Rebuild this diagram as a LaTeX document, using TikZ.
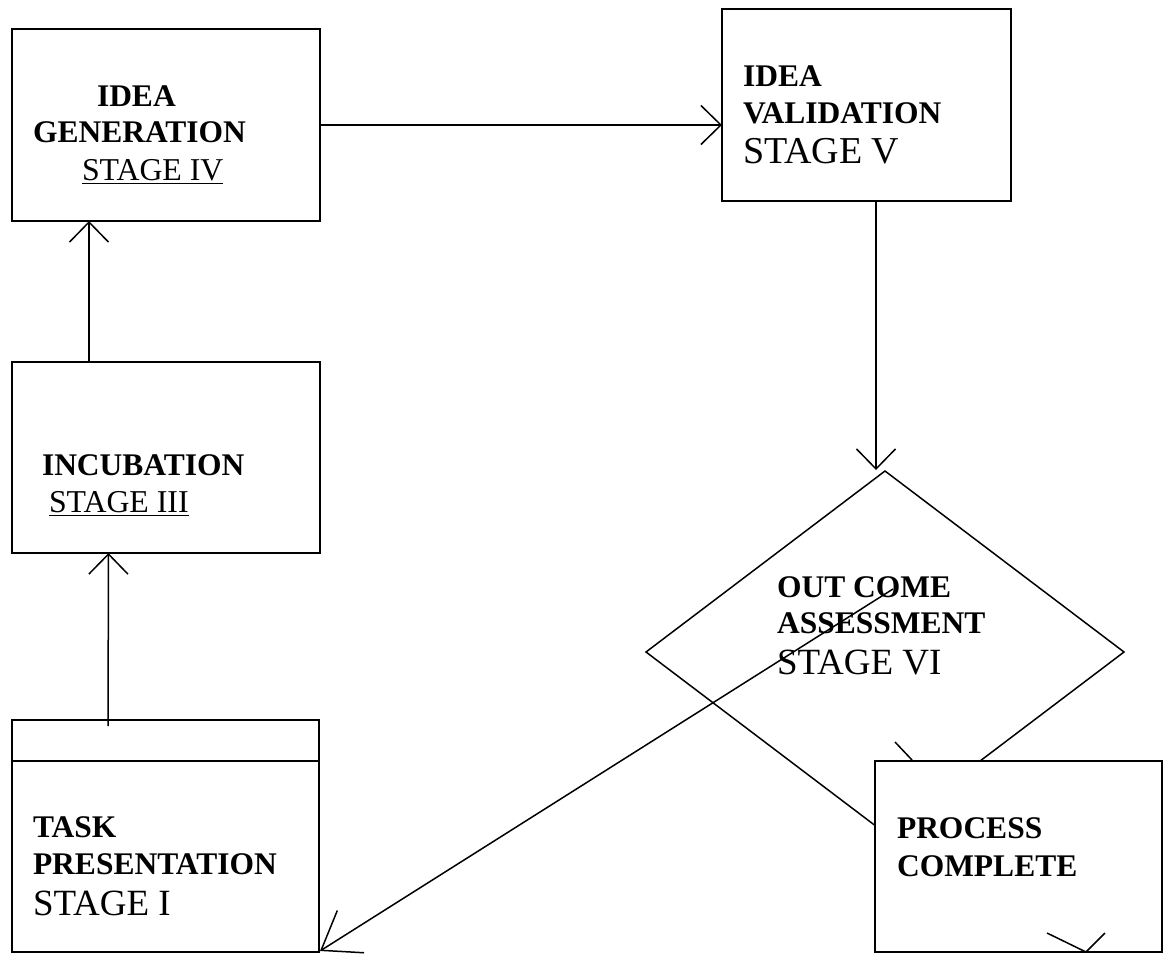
\documentclass[tikz,border=0pt]{standalone}
\usepackage{fontspec}
\setmainfont{Liberation Serif}
\usetikzlibrary{arrows.meta}
\tikzset{
  box/.style={draw, line width=1.8pt, inner sep=0pt, outer sep=0pt, fill=white},
  conn/.style={line width=1.5pt},
  arr/.style={conn, -{Straight Barb[length=20pt,width=39pt,line width=1.5pt]}},
  longarr/.style={conn, -{Straight Barb[length=35pt,width=50pt,line width=1.5pt]}},
  hd/.style={anchor=base west, inner sep=0pt, outer sep=0pt, font=\fontsize{31.5}{36}\selectfont\bfseries},
  st/.style={anchor=base west, inner sep=0pt, outer sep=0pt, font=\fontsize{31.8}{36}\selectfont},
  stbig/.style={anchor=base west, inner sep=0pt, outer sep=0pt, font=\fontsize{37}{40}\selectfont},
  uline/.style={line width=1.6pt},
}
\begin{document}
\begin{tikzpicture}[x=1pt,y=-1pt]
\useasboundingbox (0,0) rectangle (1165,954);

% boxes
\node[box, minimum width=308pt, minimum height=192pt] (gen) at (166,125) {};
\node[box, minimum width=289pt, minimum height=192pt] (val) at (866.5,105) {};
\node[box, minimum width=308pt, minimum height=191pt] (inc) at (166,457.5) {};
\node[box, minimum width=307pt, minimum height=232pt] (task) at (165.5,836) {};
\draw[line width=1.8pt] ([yshift=-41pt]task.north west) -- ([yshift=-41pt]task.north east);

% diamond
\coordinate (dT) at (885,471);
\coordinate (dL) at (646,652);
\coordinate (dR) at (1124,652);
\coordinate (dB) at (885,833);
\draw[conn] (dT) -- (dL) -- (dB) -- (dR) -- cycle;

% process box on top of diamond bottom
\node[box, minimum width=287pt, minimum height=191pt] (proc) at (1018.5,856.5) {};

% texts
\node[hd] (t1) at (97,106) {IDEA};
\node[hd] (t2) at (33,142) {GENERATION};
\node[st] (s4) at (82,180) {STAGE IV};
\draw[uline] ([yshift=-3.5pt]s4.base west) -- ([yshift=-3.5pt]s4.base east);

\node[hd] (t3) at (743,86) {IDEA};
\node[hd] (t4) at (743,123) {VALIDATION};
\node[stbig, font=\fontsize{38}{40}\selectfont] (s5) at (743,163) {STAGE V};

\node[hd] (t5) at (42,475) {INCUBATION};
\node[st] (s3) at (49,512) {STAGE III};
\draw[uline] ([yshift=-3.5pt]s3.base west) -- ([yshift=-3.5pt]s3.base east);

\node[hd] (t6) at (33,837) {TASK};
\node[hd] (t7) at (33,874) {PRESENTATION};
\node[stbig] (s1) at (33,915) {STAGE I};

\node[hd] (t8) at (777,597) {OUT COME};
\node[hd] (t9) at (777,633) {ASSESSMENT};
\node[stbig] (s6) at (777,674) {STAGE VI};

\node[hd] (t10) at (897,838) {PROCESS};
\node[hd] (t11) at (897,876) {COMPLETE};

% connectors
\draw[arr] (gen.east) -- (gen.east -| val.west);
\draw[arr] ([xshift=-77pt]inc.north) -- ([xshift=-77pt]gen.south);
\draw[arr] ([xshift=-57.5pt,yshift=-6pt]task.north) -- ([xshift=-57.5pt]inc.south);
\coordinate (dIn) at (876,470);
\draw[arr] (val.south -| dIn) -- (dIn);
\coordinate (dOut) at (893,589);
\draw[longarr] (dOut) -- ([xshift=1pt,yshift=1pt]task.south east);

% stray arrowhead marks
\coordinate (m1) at (895,742);
\coordinate (m2) at (912,760);
\draw[conn] (m1) -- (m2);
\coordinate (b1) at (1047,933);
\coordinate (b2) at (1086,952);
\coordinate (b3) at (1105,933);
\draw[conn] (b1) -- (b2) -- (b3);
\end{tikzpicture}
\end{document}
